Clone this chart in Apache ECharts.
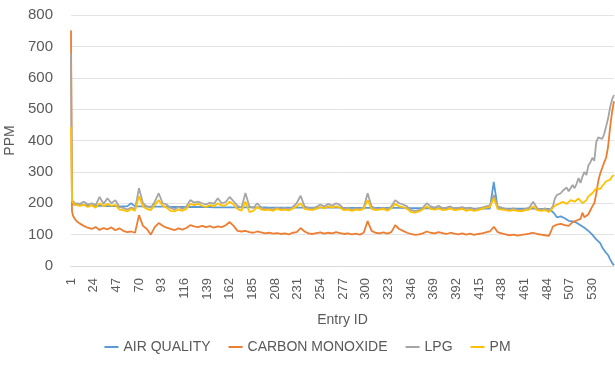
<!DOCTYPE html>
<html>
<head>
<meta charset="utf-8">
<script src="https://cdn.jsdelivr.net/npm/echarts@6/dist/echarts.min.js"></script>
<style>
html,body{margin:0;padding:0;background:#fff;}
#chart{width:615px;height:365px;}
</style>
</head>
<body>
<div id="chart"></div>
<script>
// Entry IDs (category axis: 1..552)
const entryCount = 552;
const categories = [];
for (let i = 1; i <= entryCount; i++) categories.push(String(i));

const sampleIds = [1,2,3,5,7,10,14,18,22,26,30,34,38,42,46,50,54,58,62,66,70,74,78,82,86,90,94,98,102,106,110,114,118,122,126,130,134,138,142,146,150,154,158,162,166,170,174,178,182,186,190,194,198,202,206,210,214,218,222,226,230,234,238,242,246,250,254,258,262,266,270,274,278,282,286,290,294,298,302,306,310,314,318,322,326,330,334,338,342,346,350,354,358,362,366,370,374,378,382,386,390,394,398,402,406,410,414,418,422,426,430,434,438,442,446,450,454,458,462,466,470,474,478,482,486,488,490,492,494,496,498,500,502,504,506,508,510,512,514,516,518,520,522,524,526,528,530,532,534,536,538,540,542,544,546,548,550,552];

const airQuality = [200,198,196,195,195,194,194,193,193,192,192,192,191,191,191,190,190,190,200,190,190,190,189,189,189,189,189,189,188,188,188,188,188,188,188,188,188,188,188,187,187,187,187,187,187,187,187,187,187,187,187,187,187,186,186,186,186,186,186,186,186,186,186,186,186,186,186,186,186,186,186,186,185,185,185,185,185,185,185,185,185,185,185,185,185,185,185,185,184,184,184,184,184,184,184,184,184,184,184,184,184,184,184,184,184,183,183,183,183,183,268,184,183,183,183,183,183,183,183,183,183,182,182,182,182,180,172,165,155,150,158,162,152,146,144,145,142,140,138,135,130,128,122,118,112,108,100,92,85,79,73,60,50,42,35,22,10,2];

const carbonMonoxide = [751,175,160,150,142,135,128,122,118,124,115,121,117,123,114,120,112,108,110,106,162,128,118,100,124,137,128,122,118,114,120,116,121,130,126,124,128,124,127,122,126,124,130,140,128,112,110,112,108,106,110,107,104,106,103,105,102,104,101,106,108,121,110,104,102,105,107,103,106,104,108,105,102,104,101,103,100,106,143,112,106,104,107,103,108,130,118,112,106,102,99,101,104,110,106,104,108,105,102,106,103,101,104,100,103,99,102,104,107,110,125,108,104,101,98,100,97,99,101,103,106,102,100,98,96,110,126,130,132,128,134,135,130,136,128,132,140,136,145,142,150,170,155,160,165,160,190,200,230,270,295,300,330,345,380,440,490,525];

const lpg = [678,210,205,200,203,198,205,196,200,194,220,198,216,200,210,188,185,180,186,182,248,200,190,186,205,232,200,196,185,180,188,182,190,210,202,205,200,196,202,198,216,200,204,220,206,192,186,233,190,185,200,186,182,184,180,186,182,185,180,188,200,224,190,185,184,188,196,190,198,192,200,194,182,186,180,184,182,186,232,190,184,182,186,180,190,210,200,196,190,178,175,178,186,200,190,186,192,184,186,190,182,185,188,182,186,180,184,186,190,192,226,190,186,182,180,184,180,178,182,186,205,184,180,184,175,178,190,215,226,222,232,240,236,250,238,235,258,248,262,280,265,285,300,290,320,330,345,335,395,410,408,405,420,445,470,505,530,545];

const pm = [443,205,200,196,198,192,195,188,194,186,200,190,198,192,195,180,178,174,182,176,222,190,182,178,195,210,192,186,176,174,180,176,182,198,194,198,192,188,194,190,200,192,194,205,196,182,176,205,172,176,188,180,178,180,176,182,178,180,177,183,190,200,182,180,179,182,188,184,190,186,190,186,178,180,176,180,178,182,210,182,178,180,182,176,184,198,190,188,182,172,170,174,180,190,182,180,184,178,180,184,178,180,182,176,180,176,178,182,186,188,216,182,180,178,176,178,176,174,178,180,190,178,176,178,172,176,185,192,196,198,200,205,200,198,204,210,206,205,208,215,208,200,205,210,222,225,232,240,248,250,245,255,262,270,265,275,285,290];

const seriesNames = ['AIR QUALITY','CARBON MONOXIDE','LPG','PM'];
const seriesValues = [airQuality, carbonMonoxide, lpg, pm];
const seriesColors = ['#5B9BD5','#ED7D31','#A5A5A5','#FFC000'];

const yTicks = {min: 0, max: 800, interval: 100};

const chart = echarts.init(document.getElementById('chart'), null, {renderer: 'canvas'});
const fontFam = '"Liberation Sans", Arial, sans-serif';

chart.setOption({
  animation: false,
  backgroundColor: '#ffffff',
  textStyle: {fontFamily: fontFam},
  grid: {left: 71, right: 1, top: 15, bottom: 99, containLabel: false, outerBoundsMode: 'none'},
  legend: {
    bottom: 6,
    left: 'center',
    icon: 'rect',
    itemWidth: 14,
    itemHeight: 2,
    itemGap: 18,
    textStyle: {color: '#595959', fontSize: 14, fontFamily: fontFam},
    data: seriesNames
  },
  xAxis: {
    type: 'category',
    data: categories,
    boundaryGap: false,
    name: 'Entry ID',
    nameLocation: 'middle',
    nameGap: 47,
    nameTextStyle: {color: '#595959', fontSize: 14, fontFamily: fontFam},
    axisLine: {show: true, lineStyle: {color: '#d9d9d9', width: 1}},
    axisTick: {show: false},
    axisLabel: {
      interval: 22,
      rotate: 90,
      color: '#595959',
      fontSize: 13,
      margin: 12,
      fontFamily: fontFam
    },
    splitLine: {show: false}
  },
  yAxis: {
    type: 'value',
    min: yTicks.min,
    max: yTicks.max,
    interval: yTicks.interval,
    name: 'PPM',
    nameLocation: 'middle',
    nameGap: 51,
    nameTextStyle: {color: '#595959', fontSize: 14, fontFamily: fontFam},
    axisLine: {show: false},
    axisTick: {show: false},
    axisLabel: {color: '#595959', fontSize: 15, margin: 18, fontFamily: fontFam},
    splitLine: {show: true, lineStyle: {color: '#e3e3e3', width: 1}}
  },
  series: seriesNames.map((name, k) => ({
    name: name,
    type: 'line',
    showSymbol: false,
    symbol: 'none',
    color: seriesColors[k],
    lineStyle: {width: 1.8, color: seriesColors[k]},
    data: sampleIds.map((id, i) => [id - 1, seriesValues[k][i]])
  }))
});
</script>
</body>
</html>
